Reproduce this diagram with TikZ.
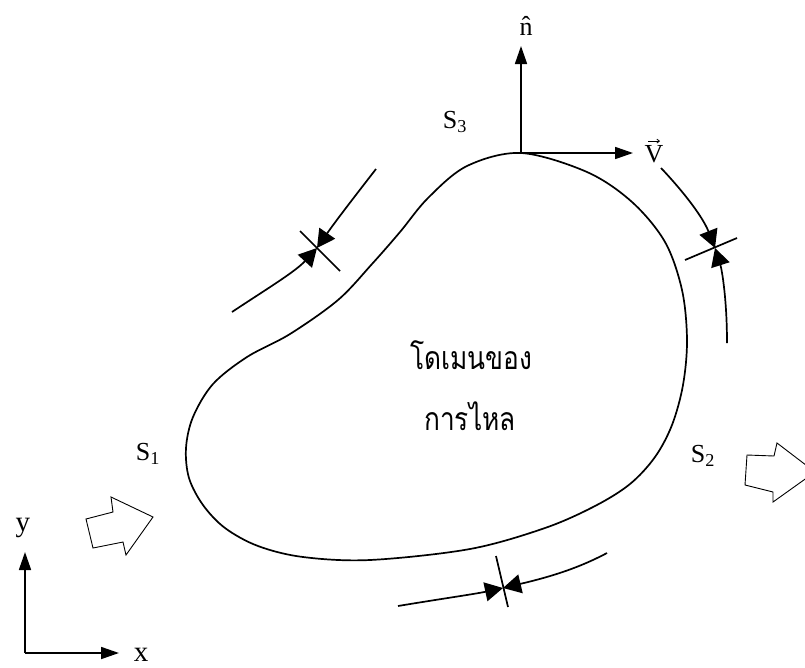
\documentclass[tikz,border=0pt]{standalone}
\usepackage{fontspec}
\setmainfont{Liberation Serif}
\newfontfamily\thaifont[Script=Thai, FakeStretch=0.82]{Loma}
\usetikzlibrary{arrows.meta}
\begin{document}
\begin{tikzpicture}[x=1pt,y=-1pt,
  outline/.style={line width=1.7pt},
  vecarrow/.style={line width=1.7pt, -{Triangle[length=18pt,width=12pt]}},
  thk/.style={line width=1.7pt, -{Triangle[length=18pt,width=19pt]}},
  crossbar/.style={line width=1.7pt},
  hollow/.style={line width=0.9pt, line join=miter},
  lab/.style={font=\fontsize{26}{30}\selectfont, inner sep=0pt},
  axlab/.style={font=\fontsize{29}{32}\selectfont, inner sep=0pt},
  thai/.style={font=\thaifont\fontsize{32}{34}\selectfont, inner sep=0pt}]
\useasboundingbox (0,0) rectangle (805,667);

% domain outline
\draw[outline] plot[smooth cycle, tension=0.55] coordinates {
  (521,153) (587,172) (632,202) (665,242) (682,290) (687,340) (683,385)
  (672,425) (655,457) (630,484) (595,506) (545,528) (470,549) (370,560)
  (303,557) (258,546) (225,528) (203,505) (189,478) (186,448) (193,417)
  (213,384) (247,357) (290,334) (338,300) (372,264) (400,232) (428,198)
  (467,166)};

% normal and velocity vectors
\coordinate (top) at (521,153);
\coordinate (ntip) at (521,46);
\coordinate (vtip) at (633,153);
\draw[vecarrow] (top) -- (ntip);
\draw[vecarrow] (top) -- (vtip);
\node[lab] (nlab) at (526,26) {\^{n}};
\node[lab] (vlab) at (654,154) {V};
\draw[line width=0.8pt, -{Straight Barb[length=2.5pt,width=4pt]}]
  ([xshift=-6pt,yshift=4pt]vlab.north) -- ([xshift=6pt,yshift=4pt]vlab.north);
\node[lab] (S3) at (455,122) {S\textsubscript{3}};
\node[lab] (S1) at (148,454) {S\textsubscript{1}};
\node[lab] (S2) at (703,456) {S\textsubscript{2}};

% upper-left thickness marker
\coordinate (ulc) at (317,248);
\coordinate (ula) at (376,169);
\coordinate (ulb) at (232,312);
\coordinate (ulx1) at (300,231);
\coordinate (ulx2) at (340,271);
\draw[thk] (ula) .. controls (355,196) and (335,222) .. (ulc);
\draw[thk] (ulb) .. controls (265,290) and (295,272) .. (ulc);
\draw[crossbar] (ulx1) -- (ulx2);

% right thickness marker
\coordinate (rc) at (715,248);
\coordinate (ra) at (661,168);
\coordinate (rb) at (727,343);
\coordinate (rx1) at (685,260);
\coordinate (rx2) at (737,238);
\draw[thk] (ra) .. controls (680,188) and (702,215) .. (rc);
\draw[thk] (rb) .. controls (727,300) and (722,270) .. (rc);
\draw[crossbar] (rx1) -- (rx2);

% bottom thickness marker
\coordinate (bc) at (503,588);
\coordinate (ba) at (398,606);
\coordinate (bb) at (607,553);
\coordinate (bx1) at (496,556);
\coordinate (bx2) at (508,607);
\draw[thk] (ba) .. controls (440,599) and (475,594) .. (bc);
\draw[thk] (bb) .. controls (575,570) and (545,578) .. (bc);
\draw[crossbar] (bx1) -- (bx2);

% hollow inflow / outflow arrows
\draw[hollow] (86,519) -- (113,512) -- (111,497) -- (153,517) -- (126,555)
  -- (123,542) -- (93,548) -- cycle;
\draw[hollow] (747,455) -- (774,456) -- (777,443) -- (815,472) -- (773,502)
  -- (773,492) -- (745,485) -- cycle;

% domain label
\node[thai] (dom1) at (471,355) {โดเมนของ};
\node[thai] (dom2) at (470,416) {การไหล};

% axes
\coordinate (orig) at (25,653);
\coordinate (ytip) at (25,552);
\coordinate (xtip) at (119,653);
\draw[vecarrow] (orig) -- (ytip);
\draw[vecarrow] (orig) -- (xtip);
\node[axlab] (ylab) at (23,528) {y};
\node[axlab] (xlab) at (141,655) {x};
\end{tikzpicture}
\end{document}
